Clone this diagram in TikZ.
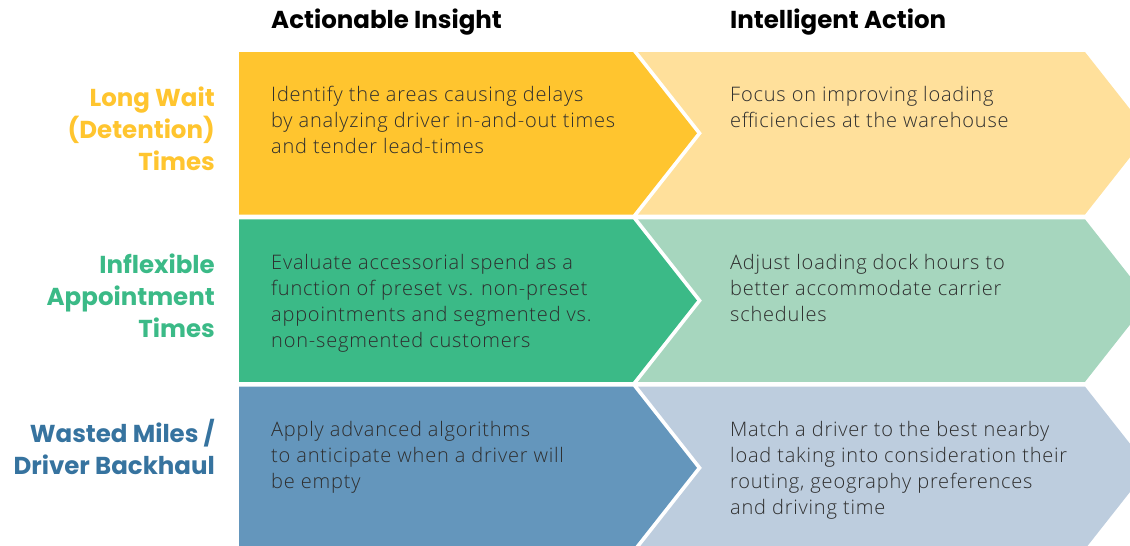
\documentclass[tikz,border=0pt]{standalone}
\usepackage{fontspec}
\setmainfont{Open Sans}[UprightFont=* Light,LetterSpace=4]
\newfontfamily\headfont{Poppins}[UprightFont=*-Bold]
\begin{document}
\definecolor{yelA}{HTML}{FFC52F}
\definecolor{yelB}{HTML}{FFE09B}
\definecolor{grnA}{HTML}{3BBA87}
\definecolor{grnB}{HTML}{A6D6BE}
\definecolor{bluA}{HTML}{6496BC}
\definecolor{bluB}{HTML}{BDCDDE}
\definecolor{bluT}{HTML}{36739F}
\definecolor{bodytxt}{HTML}{2E2E2E}
\begin{tikzpicture}[x=1pt,y=-1pt,
  colhead/.style={anchor=west,inner sep=0pt,font=\headfont\fontsize{24.5}{28}\selectfont,text=black},
  rowlabel/.style={anchor=east,align=right,inner sep=0pt,font=\headfont\fontsize{24.5}{32}\selectfont},
  bodytext/.style={anchor=north west,align=left,inner sep=0pt,text=bodytxt,font=\fontsize{20}{26}\selectfont}]
\useasboundingbox (0,0) rectangle (1130,546);
\clip (0,0) rectangle (1130,546);
% column headings
\node[colhead] (hInsight) at (271,22) {Actionable Insight};
\node[colhead] (hAction) at (730,22) {Intelligent Action};
% one row of two chevrons: top y, colours
\foreach \t/\ca/\cb/\nm in {52/yelA/yelB/r1, 219.3/grnA/grnB/r2, 386.6/bluA/bluB/r3}{
  \pgfmathsetmacro{\b}{\t+162.5}
  \pgfmathsetmacro{\m}{\t+81.25}
  \fill[\cb] (638,\t) -- (1085,\t) -- (1149,\m) -- (1085,\b) -- (638,\b) -- (702,\m) -- cycle;
  \fill[\ca] (239,\t) -- (633,\t) -- (697,\m) -- (633,\b) -- (239,\b) -- cycle;
}
% row labels
\node[rowlabel,text=yelA] (l1) at (215,129) {Long Wait\\(Detention)\\Times};
\node[rowlabel,text=grnA] (l2) at (215,296) {Inflexible\\Appointment\\Times};
\node[rowlabel,text=bluT] (l3) at (215,447) {Wasted Miles /\\Driver Backhaul};
% insight texts
\node[bodytext] (i1) at (271,86) {Identify the areas causing delays\\by analyzing driver in-and-out times\\and tender lead-times};
\node[bodytext] (i2) at (271,254) {Evaluate accessorial spend as a\\function of preset vs. non-preset\\appointments and segmented vs.\\non-segmented customers};
\node[bodytext] (i3) at (271,421) {Apply advanced algorithms\\to anticipate when a driver will\\be empty};
% action texts
\node[bodytext] (a1) at (730,86) {Focus on improving loading\\efficiencies at the warehouse};
\node[bodytext] (a2) at (730,254) {Adjust loading dock hours to\\better accommodate carrier\\schedules};
\node[bodytext] (a3) at (730,421) {Match a driver to the best nearby\\load taking into consideration their\\routing, geography preferences\\and driving time};
\end{tikzpicture}
\end{document}
